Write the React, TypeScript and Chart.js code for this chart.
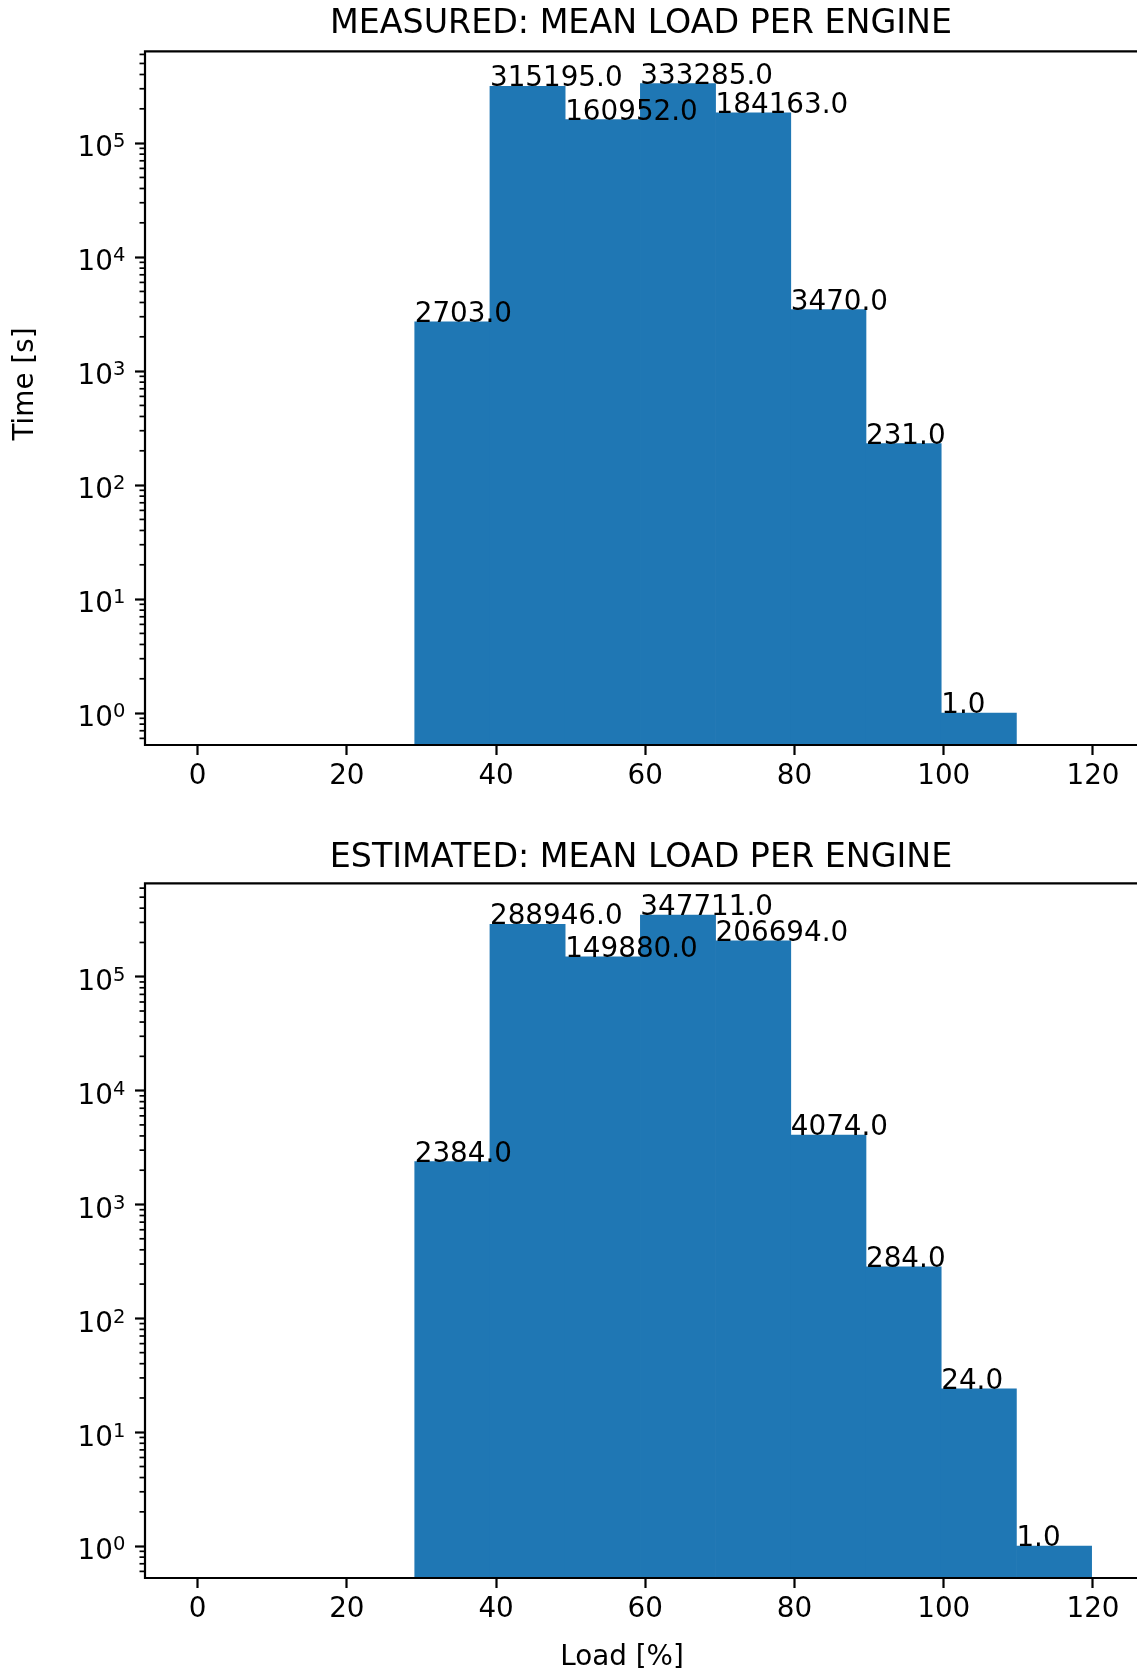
import { useEffect, useRef } from 'react'
import { Chart, registerables, type Plugin } from 'chart.js'

Chart.register(...registerables)

const FONT = '"DejaVu Sans", sans-serif'
Chart.defaults.font.family = FONT
Chart.defaults.color = '#000'

// histogram bin edges (shared by both panels)
const binEdges = [29.1, 39.18, 49.26, 59.34, 69.42, 79.5, 89.58, 99.66, 109.74, 119.82]
const measuredTime = [2703, 315195, 160952, 333285, 184163, 3470, 231, 1, 0]
const estimatedTime = [2384, 288946, 149880, 347711, 206694, 4074, 284, 24, 1]
const xTicks = [0, 20, 40, 60, 80, 100, 120]
const yTicks = [1, 10, 100, 1000, 10000, 100000]

const BLUE = '#1f77b4'
const TICK_PX = 27.8
const SUP_PX = 19.5
const TITLE_PX = 33.3

interface PanelProps {
  title: string
  values: number[]
  yMax: number
  height: number
  titlePad: { top: number; bottom: number }
  xAxisHeight: number
  yLabel?: { text: string; x: number; y: number }
  xLabel?: { text: string; x: number; y: number }
}

function buildOverlay(values: number[], yLabel?: PanelProps['yLabel'], xLabel?: PanelProps['xLabel']): Plugin<'bar'> {
  return {
    id: 'mplOverlay',
    afterDatasetsDraw(chart) {
      const { ctx, chartArea: a } = chart
      const xs = chart.scales.x
      const ys = chart.scales.y
      ctx.save()

      // minor log ticks on the left spine
      ctx.strokeStyle = '#000'
      ctx.lineWidth = 1.7
      for (let e = -1; e <= 6; e++) {
        for (let k = 2; k <= 9; k++) {
          const v = k * Math.pow(10, e)
          if (v < ys.min || v > ys.max) continue
          const py = ys.getPixelForValue(v)
          ctx.beginPath()
          ctx.moveTo(a.left - 5.5, py)
          ctx.lineTo(a.left, py)
          ctx.stroke()
        }
      }

      // frame (right spine is cut off in the reference)
      ctx.lineWidth = 2.2
      ctx.beginPath()
      ctx.moveTo(a.left, a.bottom + 1.1)
      ctx.lineTo(a.left, a.top)
      ctx.lineTo(a.right + 2, a.top)
      ctx.moveTo(a.left - 1.1, a.bottom)
      ctx.lineTo(a.right + 2, a.bottom)
      ctx.stroke()

      // decade labels as 10 with a raised exponent
      ctx.fillStyle = '#000'
      ctx.textAlign = 'left'
      ctx.textBaseline = 'alphabetic'
      const rightEdge = a.left - 10 - 9.7
      yTicks.forEach((v) => {
        const py = ys.getPixelForValue(v)
        const exp = String(Math.round(Math.log10(v)))
        ctx.font = `${SUP_PX}px ${FONT}`
        const w2 = ctx.measureText(exp).width
        ctx.font = `${TICK_PX}px ${FONT}`
        const w1 = ctx.measureText('10').width
        const x0 = rightEdge - w1 - w2
        ctx.fillText('10', x0, py + 13.3)
        ctx.font = `${SUP_PX}px ${FONT}`
        ctx.fillText(exp, x0 + w1, py + 4.3)
      })

      // value labels at bin left edge, baseline on the bar top
      ctx.font = `${TICK_PX}px ${FONT}`
      values.forEach((v, i) => {
        if (v <= 0) return
        ctx.fillText(v.toFixed(1), xs.getPixelForValue(binEdges[i]), ys.getPixelForValue(v))
      })

      ctx.textAlign = 'center'
      ctx.textBaseline = 'middle'
      if (yLabel) {
        ctx.save()
        ctx.translate(yLabel.x, yLabel.y)
        ctx.rotate(-Math.PI / 2)
        ctx.fillText(yLabel.text, 0, 0)
        ctx.restore()
      }
      if (xLabel) ctx.fillText(xLabel.text, xLabel.x, xLabel.y)
      ctx.restore()
    },
  }
}

function HistPanel({ title, values, yMax, height, titlePad, xAxisHeight, yLabel, xLabel }: PanelProps) {
  const canvasRef = useRef<HTMLCanvasElement>(null)
  const chartRef = useRef<Chart | null>(null)

  useEffect(() => {
    if (!canvasRef.current) return
    const points = values.map((v, i) => ({ x: (binEdges[i] + binEdges[i + 1]) / 2, y: v }))

    chartRef.current = new Chart(canvasRef.current, {
      type: 'bar',
      data: {
        datasets: [
          {
            data: points,
            backgroundColor: BLUE,
            borderWidth: 0,
            barPercentage: 1,
            categoryPercentage: 1,
          },
        ],
      },
      options: {
        responsive: false,
        animation: false,
        devicePixelRatio: 1,
        layout: { padding: 0 },
        plugins: {
          legend: { display: false },
          tooltip: { enabled: false },
          title: {
            display: true,
            text: title,
            fullSize: false,
            color: '#000',
            font: { size: TITLE_PX, weight: 'normal', family: FONT },
            padding: titlePad,
          },
        },
        scales: {
          x: {
            type: 'linear',
            min: -7.05,
            max: 125.9,
            offset: false,
            bounds: 'data',
            afterBuildTicks: (s) => { s.ticks = xTicks.map((v) => ({ value: v })) },
            afterFit: (s) => { s.height = xAxisHeight },
            ticks: { font: { size: TICK_PX }, color: '#000', padding: 5, maxRotation: 0 },
            grid: { display: true, drawOnChartArea: false, drawTicks: true, tickLength: 10, tickWidth: 2.2, tickColor: '#000', offset: false },
            border: { display: false },
          },
          y: {
            type: 'logarithmic',
            min: Math.pow(10, -0.28),
            max: yMax,
            bounds: 'data',
            afterBuildTicks: (s) => { s.ticks = yTicks.map((v) => ({ value: v })) },
            afterFit: (s) => { s.width = 145 },
            ticks: { display: false },
            grid: { display: true, drawOnChartArea: false, drawTicks: true, tickLength: 10, tickWidth: 2.2, tickColor: '#000' },
            border: { display: false },
          },
        },
      },
      plugins: [buildOverlay(values, yLabel, xLabel)],
    })

    return () => { chartRef.current?.destroy(); chartRef.current = null }
  }, [title, values, yMax, height, titlePad, xAxisHeight, yLabel, xLabel])

  return <canvas ref={canvasRef} width={1137} height={height} style={{ display: 'block', width: 1137, height }} />
}

export default function App() {
  return (
    <div style={{ position: 'absolute', left: 0, top: 0, width: 1137, height: 1673, background: '#fff' }}>
      <HistPanel
        title="MEASURED: MEAN LOAD PER ENGINE"
        values={measuredTime}
        yMax={Math.pow(10, 5.805)}
        height={800}
        titlePad={{ top: 4, bottom: 7.4 }}
        xAxisHeight={55}
        yLabel={{ text: 'Time [s]', x: 26, y: 384 }}
      />
      <HistPanel
        title="ESTIMATED: MEAN LOAD PER ENGINE"
        values={estimatedTime}
        yMax={Math.pow(10, 5.82)}
        height={873}
        titlePad={{ top: 38, bottom: 5.4 }}
        xAxisHeight={95}
        xLabel={{ text: 'Load [%]', x: 622, y: 858 }}
      />
    </div>
  )
}
